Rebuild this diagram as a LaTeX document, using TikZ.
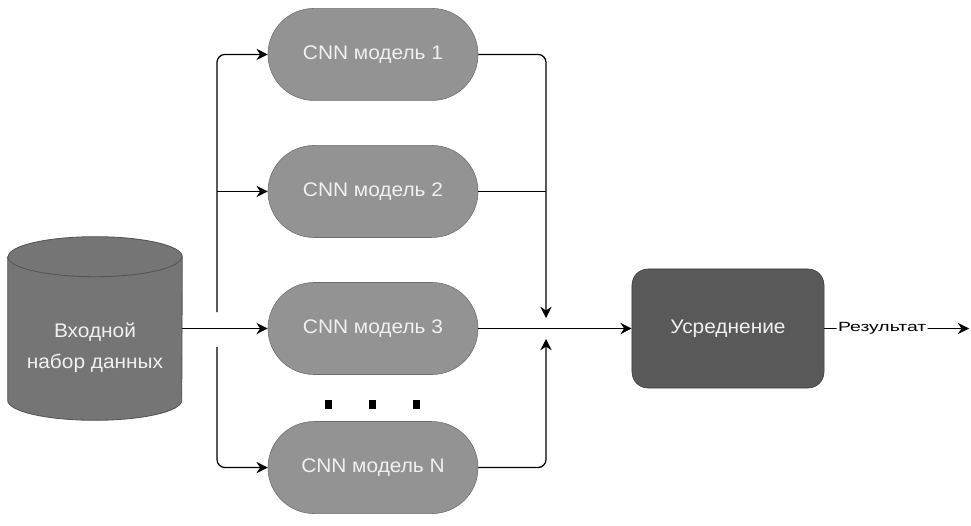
\documentclass[tikz,border=0pt]{standalone}
\usepackage{fontspec}
\setmainfont[FakeStretch=1.06]{Liberation Sans}
\newfontfamily\labelfont[FakeStretch=1.45]{Liberation Sans}
\usetikzlibrary{arrows.meta}

\definecolor{modelgray}{RGB}{147,147,147}
\definecolor{modelline}{RGB}{110,110,110}
\definecolor{datagray}{RGB}{117,117,117}
\definecolor{dataline}{RGB}{85,85,85}
\definecolor{avggray}{RGB}{89,89,89}
\definecolor{avgline}{RGB}{60,60,60}
\definecolor{lighttext}{RGB}{240,240,240}

\begin{document}
\begin{tikzpicture}[x=0.025cm, y=-0.025cm, node distance=3.425cm,
    model node/.style={rectangle, draw=modelline, fill=modelgray, text=lighttext, minimum width=5.25cm, minimum height=2.3cm, rounded corners=1.15cm, font=\fontsize{14}{17}\selectfont},
    avg node/.style={rectangle, draw=avgline, fill=avggray, text=lighttext, minimum width=4.8cm, minimum height=2.975cm, rounded corners=0.4cm, font=\fontsize{14}{17}\selectfont},
    data node/.style={minimum width=4.35cm, minimum height=4.575cm, inner sep=0pt},
    dot node/.style={rectangle, fill=black, minimum width=0.175cm, minimum height=0.225cm, inner sep=0pt},
    link/.style={draw, line width=0.9pt, rounded corners=0.2cm},
    tip/.style={-{Stealth[length=2.8mm, width=2.8mm]}}]
\useasboundingbox (0,0) rectangle (971,525);

% input data cylinder
\node[data node] (data) at (95,328.5) {};
\draw[draw=dataline, fill=datagray, line width=0.6pt] ([yshift=-0.5cm]data.north west) -- ([yshift=0.5cm]data.south west)
    arc[start angle=180, end angle=360, x radius=2.175cm, y radius=0.5cm]
    -- ([yshift=-0.5cm]data.north east)
    arc[start angle=0, end angle=180, x radius=2.175cm, y radius=0.5cm] -- cycle;
\draw[draw=dataline, line width=0.6pt] ([yshift=-0.5cm]data.north west)
    arc[start angle=180, end angle=360, x radius=2.175cm, y radius=0.5cm];
\node[text=lighttext, align=center, font=\fontsize{14}{22}\selectfont] (datatext) at (95,348) {Входной\\набор данных};

% models
\node[model node] (m3) at (373,328.5) {CNN модель 3};
\node[model node] (m2) [above of=m3] {CNN модель 2};
\node[model node] (m1) [above of=m2] {CNN модель 1};
\node[model node, node distance=3.475cm] (mN) [below of=m3] {CNN модель N};
\foreach \x [count=\i] in {328,372,416}{
    \node[dot node] (dot\i) at (\x,404) {};}

\node[avg node] (avg) at (728,328.5) {Усреднение};

% left bus
\coordinate (splitup) at (217,312);
\coordinate (splitdown) at (217,347);
\draw[link, tip] (splitup) |- (m1);
\draw[link, tip] (splitup |- m2) -- (m2);
\draw[link, tip] (splitdown) |- (mN);
\draw[link, tip] (data) -- (m3);

% right bus
\coordinate (joinup) at (546,318);
\coordinate (joindown) at (546,339);
\draw[link, tip] (m1) -| (joinup);
\draw[link] (m2) -- (m2 -| joinup);
\draw[link, tip] (mN) -| (joindown);
\draw[link, tip] (m3) -- (avg);

% output
\coordinate (out) at (969,328.5);
\draw[link, tip] (avg) -- node[pos=0.4, fill=white, inner sep=1pt, font=\labelfont\fontsize{9.5}{12}\selectfont] (result) {Результат} (out);
\end{tikzpicture}
\end{document}
